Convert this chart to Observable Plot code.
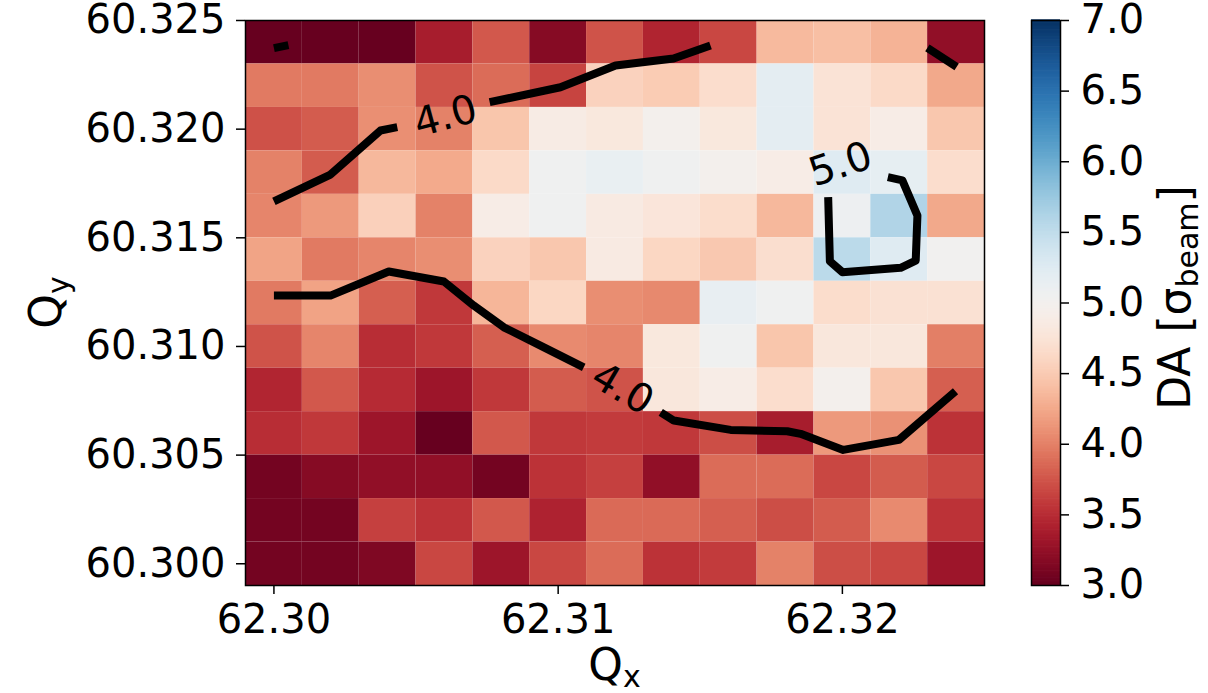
<!DOCTYPE html>
<html><head><meta charset="utf-8">
<script src="https://cdn.jsdelivr.net/npm/d3@7"></script>
<script src="https://cdn.jsdelivr.net/npm/@observablehq/plot@0.6"></script>
<style>
html,body{margin:0;padding:0;background:#fff;}
#chart{position:relative;width:1208px;height:693px;overflow:hidden;}
#chart svg{position:absolute;left:0;top:0;}
</style></head><body><div id="chart"></div>
<script>
// ---- data ----
const qxValues = [62.300, 62.302, 62.304, 62.306, 62.308, 62.310, 62.312, 62.314, 62.316, 62.318, 62.320, 62.322, 62.324];
const qyValues = [60.324, 60.322, 60.320, 60.318, 60.316, 60.314, 60.312, 60.310, 60.308, 60.306, 60.304, 60.302, 60.300];
// DA [sigma_beam], one row per Qy value (top to bottom), one column per Qx value
const daGrid = [
  [3.00, 3.00, 3.00, 3.37, 3.76, 3.17, 3.73, 3.43, 3.66, 4.36, 4.40, 4.31, 3.23],
  [3.95, 3.95, 4.07, 3.73, 3.87, 3.64, 4.56, 4.50, 4.67, 5.19, 4.74, 4.63, 4.24],
  [3.72, 3.78, 4.08, 4.00, 4.45, 4.87, 4.80, 4.97, 4.80, 5.19, 4.74, 4.89, 4.46],
  [4.00, 3.78, 4.35, 4.25, 4.63, 5.04, 5.13, 5.04, 4.97, 4.89, 5.24, 5.17, 4.67],
  [4.02, 4.14, 4.54, 4.00, 4.89, 5.04, 4.84, 4.77, 4.66, 4.35, 5.08, 5.60, 4.24],
  [4.21, 3.95, 4.02, 4.07, 4.56, 4.46, 4.84, 4.60, 4.47, 4.68, 5.53, 5.24, 5.02],
  [3.95, 4.20, 3.80, 3.57, 4.33, 4.60, 4.07, 4.04, 5.14, 5.04, 4.66, 4.71, 4.71],
  [3.73, 4.02, 3.50, 3.57, 3.80, 4.05, 4.02, 4.80, 5.04, 4.45, 4.79, 4.79, 3.98],
  [3.44, 3.76, 3.48, 3.30, 3.57, 3.78, 3.73, 4.79, 4.89, 4.67, 4.97, 4.46, 3.80],
  [3.50, 3.57, 3.30, 3.00, 3.76, 3.57, 3.59, 3.57, 3.70, 3.37, 4.14, 4.09, 3.53],
  [3.07, 3.17, 3.23, 3.23, 3.07, 3.53, 3.62, 3.23, 3.87, 3.87, 3.66, 3.78, 3.66],
  [3.07, 3.07, 3.62, 3.53, 3.76, 3.42, 3.86, 3.86, 3.80, 3.70, 3.78, 4.05, 3.53],
  [3.07, 3.07, 3.13, 3.66, 3.30, 3.66, 3.87, 3.53, 3.59, 4.00, 3.70, 3.66, 3.30]
];
const colorDomain = [3.0, 7.0];
const qxTicks = [62.30, 62.31, 62.32];
const qyTicks = [60.300, 60.305, 60.310, 60.315, 60.320, 60.325];
const daTicks = [3.0, 3.5, 4.0, 4.5, 5.0, 5.5, 6.0, 6.5, 7.0];

// contour lines [Qx, Qy] (broken where labels sit)
const c40UpperStub = [[62.30000, 60.32373], [62.30051, 60.32387]];
const c40UpperA = [[62.30000, 60.31668], [62.30199, 60.31791], [62.30375, 60.31994], [62.30434, 60.32009]];
const c40UpperB = [[62.30759, 60.32124], [62.31008, 60.32193], [62.31202, 60.32293], [62.31406, 60.32325], [62.31536, 60.32385]];
const c40RightStub = [[62.32299, 60.32374], [62.32402, 60.32287]];
const c40LowerA = [[62.30000, 60.31234], [62.30199, 60.31234], [62.30404, 60.31345], [62.30598, 60.31299], [62.30703, 60.31188], [62.30809, 60.31088], [62.30950, 60.30996], [62.31090, 60.30904]];
const c40LowerB = [[62.31361, 60.30697], [62.31407, 60.30659], [62.31607, 60.30616], [62.31806, 60.30610], [62.31853, 60.30598], [62.32003, 60.30524], [62.32199, 60.30570], [62.32398, 60.30794]];
const c50Loop = [[62.31950, 60.31687], [62.31956, 60.31392], [62.32000, 60.31342], [62.32205, 60.31362], [62.32258, 60.31395], [62.32264, 60.31602], [62.32211, 60.31764], [62.32160, 60.31779]];
const contourLabelText = ["4.0", "4.0", "5.0"];
const contourLabelQx = [62.30604, 62.31226, 62.31994];
const contourLabelQy = [60.32058, 60.30804, 60.31837];

// ---- derived tables ----
const half = (qxValues[1] - qxValues[0]) / 2;
const halfY = (qyValues[0] - qyValues[1]) / 2;
const cells = qyValues.flatMap((y, r) => qxValues.map((x, c) => ({qx: x, qy: y, da: daGrid[r][c]})));
const segments = {c40UpperStub, c40UpperA, c40UpperB, c40RightStub, c40LowerA, c40LowerB, c50Loop};
const lineRows = Object.entries(segments).flatMap(([id, pts]) => pts.map(([x, y]) => ({id, qx: x, qy: y})));
// each label sits in the gap between the end of one piece and the start of another
const labelGaps = [[c40UpperA, c40UpperB], [c40LowerA, c40LowerB], [c50Loop, c50Loop]];

const W = 1208, H = 693;
const M = {top: 20, right: 224, bottom: 108, left: 245};
const xDomain = [qxValues[0] - half, qxValues[qxValues.length - 1] + half];
const yDomain = [qyValues[qyValues.length - 1] - halfY, qyValues[0] + halfY];
const kx = (W - M.left - M.right) / (xDomain[1] - xDomain[0]);
const ky = (H - M.top - M.bottom) / (yDomain[1] - yDomain[0]);
const labels = contourLabelText.map((t, i) => {
  const [a, b] = labelGaps[i];
  const p = a[a.length - 1], q = b[0];
  let ang = Math.atan2(-(q[1] - p[1]) * ky, (q[0] - p[0]) * kx) * 180 / Math.PI;
  if (ang > 90) ang -= 180;
  if (ang < -90) ang += 180;
  return {text: t, qx: contourLabelQx[i], qy: contourLabelQy[i], rotate: ang};
});

const font = "DejaVu Sans";
const colorScale = {type: "linear", scheme: "rdbu", domain: colorDomain, clamp: true};

const main = Plot.plot({
  width: W, height: H,
  marginTop: M.top, marginRight: M.right, marginBottom: M.bottom, marginLeft: M.left,
  style: {fontFamily: font, fontSize: "40px", color: "black", background: "transparent", overflow: "visible"},
  x: {domain: xDomain},
  y: {domain: yDomain},
  color: colorScale,
  marks: [
    Plot.rect(cells, {x1: d => d.qx - half, x2: d => d.qx + half, y1: d => d.qy - halfY, y2: d => d.qy + halfY, fill: "da"}),
    Plot.line(lineRows, {x: "qx", y: "qy", z: "id", stroke: "black", strokeWidth: 8, strokeLinecap: "butt", strokeLinejoin: "round"}),
    Plot.text(labels, {x: "qx", y: "qy", text: "text", rotate: "rotate", fontSize: 40, fill: "black", fontFamily: font}),
    Plot.frame({stroke: "black", strokeWidth: 1.5}),
    Plot.axisX({ticks: qxTicks, tickFormat: d3.format(".2f"), tickSize: 9, tickPadding: 10, label: null, fontSize: 40, strokeWidth: 1.5}),
    Plot.axisY({ticks: qyTicks, tickFormat: d3.format(".3f"), tickSize: 9, tickPadding: 11, label: null, fontSize: 40, strokeWidth: 1.5})
  ]
});

// colorbar
const CB = {top: 20, right: 148, bottom: 108, left: 1031};
const rampStep = 0.01;
const ramp = d3.range(colorDomain[0], colorDomain[1], rampStep);
const bar = Plot.plot({
  width: W, height: H,
  marginTop: CB.top, marginRight: CB.right, marginBottom: CB.bottom, marginLeft: CB.left,
  style: {fontFamily: font, fontSize: "40px", color: "black", background: "transparent", overflow: "visible"},
  x: {domain: [0, 1], axis: null},
  y: {domain: colorDomain},
  color: colorScale,
  marks: [
    Plot.rect(ramp, {x1: 0, x2: 1, y1: d => d, y2: d => d + rampStep * 1.5, fill: d => d}),
    Plot.frame({stroke: "black", strokeWidth: 1.5}),
    Plot.axisY({anchor: "right", ticks: daTicks, tickFormat: d3.format(".1f"), tickSize: 8, tickPadding: 12, label: null, fontSize: 40, strokeWidth: 1.5})
  ]
});

const chart = document.getElementById("chart");
chart.style.background = "white";
chart.append(main);
chart.append(bar);
bar.style.pointerEvents = "none";

// axis titles with subscripts
const titleSize = 44, subSize = 30;
const sm = d3.select(main);
const plotCx = M.left + (W - M.left - M.right) / 2;
const plotCy = M.top + (H - M.top - M.bottom) / 2;
const xt = sm.append("text").attr("x", plotCx).attr("y", 680).attr("text-anchor", "middle")
  .attr("font-family", font).attr("font-size", titleSize).attr("fill", "black");
xt.append("tspan").text("Q");
xt.append("tspan").attr("dy", 7).attr("font-size", subSize).text("x");

const yt = sm.append("text").attr("transform", `translate(61,${plotCy}) rotate(-90)`).attr("text-anchor", "middle")
  .attr("font-family", font).attr("font-size", titleSize).attr("fill", "black");
yt.append("tspan").text("Q");
yt.append("tspan").attr("dy", 8).attr("font-size", subSize).text("y");

const sb = d3.select(bar);
const ct = sb.append("text").attr("transform", `translate(1190,${plotCy - 5}) rotate(-90)`).attr("text-anchor", "middle")
  .attr("font-family", font).attr("font-size", titleSize).attr("fill", "black");
ct.append("tspan").text("DA [σ");
ct.append("tspan").attr("dy", 8).attr("font-size", subSize).text("beam");
ct.append("tspan").attr("dy", -8).text("]");
</script></body></html>
